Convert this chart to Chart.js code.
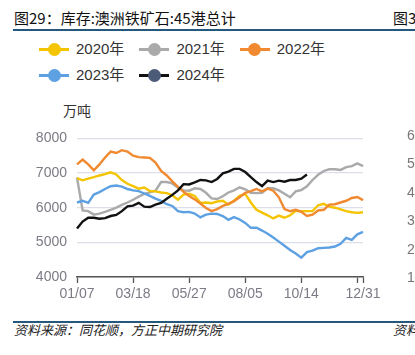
<!DOCTYPE html>
<html>
<head>
<meta charset="utf-8">
<script src="https://cdn.jsdelivr.net/npm/chart.js@4/dist/chart.umd.min.js"></script>
<style>
  html, body { margin: 0; padding: 0; background: #fff; }
  body { width: 415px; height: 355px; position: relative; overflow: hidden;
         font-family: "Liberation Sans", "Noto Sans CJK SC", sans-serif; }
  .abs { position: absolute; white-space: nowrap; }
  #title { left: 14px; top: 8px; font-size: 15px; line-height: 20px; color: #111;
           font-family: "Noto Sans CJK SC", sans-serif; }
  #title2 { left: 393px; top: 8px; font-size: 15px; line-height: 20px; color: #111;
           font-family: "Noto Sans CJK SC", sans-serif; }
  #topline { left: 13px; top: 29px; width: 402px; height: 2px; background: #24587f; }
  #botline { left: 13px; top: 321px; width: 402px; height: 2px; background: #24587f; }
  #source { left: 14px; top: 320px; font-size: 13px; line-height: 20px; color: #222;
            font-style: italic; font-family: "Noto Sans CJK SC", sans-serif; }
  #source2 { left: 393px; top: 320px; font-size: 13px; line-height: 20px; color: #222;
            font-style: italic; font-family: "Noto Sans CJK SC", sans-serif; }
  #unit { left: 63px; top: 100px; font-size: 14px; line-height: 20px; color: #333;
          font-family: "Noto Sans CJK SC", sans-serif; }
  #legend { left: 39px; top: 36px; width: 370px; }
  .lrow { display: flex; height: 26px; align-items: center; }
  .litem { display: flex; align-items: center; margin-right: 15px; }
  .lmark { position: relative; width: 30px; height: 14px; margin-right: 7px; }
  .lmark .ln { position: absolute; left: 0; top: 6px; width: 30px; height: 2.5px; }
  .lmark .dot { position: absolute; left: 8.5px; top: 0.5px; width: 13px; height: 13px; border-radius: 50%; }
  .ltext { font-size: 15px; color: #333; line-height: 20px; }
  .rnum { position: absolute; left: 407px; font-size: 14px; line-height: 16px; color: #777; }
  #wrap { position: absolute; left: 0; top: 120px; width: 415px; height: 185px; }
</style>
</head>
<body>
<div id="title" class="abs">图29：库存:澳洲铁矿石:45港总计</div>
<div id="title2" class="abs">图3</div>
<div id="topline" class="abs"></div>
<div id="legend" class="abs"></div>
<div id="unit" class="abs">万吨</div>
<div id="wrap"><canvas id="c" width="415" height="185"></canvas></div>
<div id="botline" class="abs"></div>
<div id="source" class="abs">资料来源：同花顺，方正中期研究院</div>
<div id="source2" class="abs">资料</div>
<div id="rnums"></div>
<script>
const categories = ['01/07','01/14','01/21','01/28','02/04','02/11','02/18','02/25','03/04','03/11',
  '03/18','03/25','04/01','04/08','04/15','04/22','04/29','05/06','05/13','05/20',
  '05/27','06/03','06/10','06/17','06/24','07/01','07/08','07/15','07/22','07/29',
  '08/05','08/12','08/19','08/26','09/02','09/09','09/16','09/23','09/30','10/07',
  '10/14','10/21','10/28','11/04','11/11','11/18','11/25','12/02','12/09','12/16',
  '12/23','12/31'];
const shownLabelIdx = [0, 10, 20, 30, 40, 51];
const tickMarkIdx = [0, 10, 20, 30, 40, 50, 51];
const yTicks = [4000, 5000, 6000, 7000, 8000];
const rightAxisLabels = ['6', '5', '4', '3', '2', '1'];

const s2020 = [6850,6790,6840,6880,6930,6970,7020,6960,6800,6690,
  6620,6550,6580,6480,6470,6440,6420,6360,6230,6380,
  6400,6340,6140,6150,6130,6180,6200,6090,6200,6340,
  6400,6150,5940,5860,5780,5690,5770,5710,5780,5910,
  5900,5900,5900,6070,6110,6030,6000,5950,5900,5870,
  5850,5870];
const s2021 = [6870,5920,5900,5800,5830,5880,5940,6000,6080,6150,
  6230,6320,6400,6440,6490,6740,6740,6700,6580,6500,
  6490,6560,6540,6430,6270,6250,6330,6440,6500,6590,
  6530,6430,6420,6430,6560,6560,6500,6400,6300,6470,
  6510,6620,6800,6950,7060,7110,7110,7090,7170,7200,
  7280,7200];
const s2022 = [7250,7390,7250,7080,7250,7450,7620,7580,7660,7620,
  7500,7460,7450,7440,7300,7060,6930,6760,6600,6460,
  6340,6240,6120,5990,5900,5960,6050,6110,6190,6300,
  6430,6480,6540,6470,6550,6490,6300,5960,5900,5940,
  5880,5760,5800,5920,5940,6090,6100,6150,6200,6280,
  6310,6220];
const s2023 = [6150,6200,6140,6380,6450,6540,6620,6640,6610,6540,
  6500,6480,6410,6340,6260,6200,6100,6050,5900,5870,
  5880,5830,5720,5800,5830,5820,5760,5650,5730,5660,
  5560,5420,5420,5340,5250,5140,5020,4900,4780,4680,
  4560,4720,4760,4830,4840,4850,4880,4960,5130,5070,
  5230,5300];
const s2024 = [5400,5600,5710,5710,5680,5700,5760,5790,5900,6040,
  6060,6140,6030,6020,6090,6140,6260,6370,6500,6680,
  6670,6730,6800,6790,6740,6830,6990,7040,7120,7120,
  7030,6880,6740,6620,6780,6740,6780,6750,6800,6800,
  6840,6960];

const seriesDefs = [
  { label: '2020年', data: s2020, color: '#f5c400', marker: '#f5c400', order: 4 },
  { label: '2021年', data: s2021, color: '#aaaaaa', marker: '#aaaaaa', order: 5 },
  { label: '2022年', data: s2022, color: '#f0892f', marker: '#f0892f', order: 3 },
  { label: '2023年', data: s2023, color: '#5ea1e3', marker: '#5ea1e3', order: 2 },
  { label: '2024年', data: s2024, color: '#111111', marker: '#4b5b78', order: 0 }
];

const chart = new Chart(document.getElementById('c'), {
  type: 'line',
  data: {
    labels: categories,
    datasets: seriesDefs.map(s => ({
      label: s.label, data: s.data, borderColor: s.color, backgroundColor: s.marker,
      borderWidth: 2.4, pointRadius: 0, tension: 0, fill: false, order: s.order
    }))
  },
  options: {
    responsive: false, animation: false, devicePixelRatio: 1,
    layout: { padding: { top: 15, right: 52, left: 0, bottom: 0 } },
    plugins: { legend: { display: false }, tooltip: { enabled: false } },
    scales: {
      x: {
        type: 'category', offset: false,
        afterFit: (scale) => { scale.height = 28; },
        border: { display: true, color: '#555', width: 1.5 },
        grid: {
          drawOnChartArea: false, drawTicks: true, tickLength: 6, tickWidth: 1.3,
          color: 'rgba(0,0,0,0)',
          tickColor: (ctx) => tickMarkIdx.includes(ctx.index) ? '#555' : 'rgba(0,0,0,0)'
        },
        ticks: {
          autoSkip: false, maxRotation: 0, minRotation: 0, padding: 3,
          color: '#7b7b86', font: { size: 14, family: 'Liberation Sans' },
          callback: function (value, index) {
            return shownLabelIdx.includes(index) ? this.getLabelForValue(value) : '';
          }
        }
      },
      y: {
        min: 4000, max: 8000,
        afterFit: (scale) => { scale.width = 77; },
        afterBuildTicks: (scale) => { scale.ticks = yTicks.map(v => ({ value: v })); },
        border: { display: false },
        grid: { color: '#dcdfea', lineWidth: 1.2, drawTicks: false },
        ticks: { padding: 10, color: '#7b7b86', font: { size: 14, family: 'Liberation Sans' },
                 callback: (v) => String(v) }
      }
    }
  }
});

// HTML legend built from the chart's datasets
const legendEl = document.getElementById('legend');
const rows = [[0, 1, 2], [3, 4]];
rows.forEach(r => {
  const row = document.createElement('div');
  row.className = 'lrow';
  r.forEach(i => {
    const ds = chart.data.datasets[i];
    const item = document.createElement('div');
    item.className = 'litem';
    item.innerHTML = '<span class="lmark"><span class="ln" style="background:' + ds.borderColor +
      '"></span><span class="dot" style="background:' + ds.backgroundColor + '"></span></span>' +
      '<span class="ltext">' + ds.label + '</span>';
    row.appendChild(item);
  });
  legendEl.appendChild(row);
});

// cropped neighbour chart axis numbers on the right edge
const rn = document.getElementById('rnums');
const rTops = [127, 155, 184, 212, 241, 269];
rightAxisLabels.forEach((t, k) => {
  const d = document.createElement('div');
  d.className = 'rnum';
  d.style.top = rTops[k] + 'px';
  d.textContent = t;
  rn.appendChild(d);
});
</script>
</body>
</html>
